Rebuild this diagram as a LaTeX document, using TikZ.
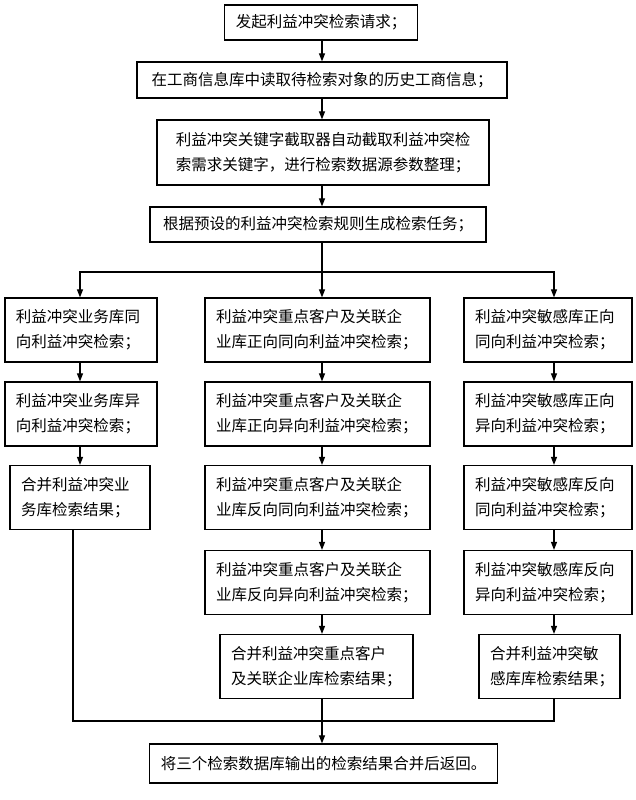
\documentclass[tikz,border=0pt]{standalone}
\usepackage{fontspec}
\newfontfamily\cjk{Noto Sans CJK SC}
\usetikzlibrary{arrows.meta}
\begin{document}
\begin{tikzpicture}[x=1pt,y=-1pt,
  box/.style={draw, line width=1.2pt, font=\cjk\fontsize{15.5}{25}\selectfont, inner ysep=0pt, inner xsep=11pt},
  single/.style={box, align=center},
  lbox/.style={box, align=left, minimum height=64pt},
  arr/.style={line width=1.1pt, -{Triangle[length=8pt,width=6pt]}},
  ln/.style={line width=1.1pt}
]
\fill[white] (0,0) rectangle (636,800);
\useasboundingbox (0,0) rectangle (636,800);

% top chain
\node[single, minimum width=185pt, minimum height=35pt] (B1) at (321,22.5) {发起利益冲突检索请求；};
\node[single, minimum width=370pt, minimum height=36pt] (B2) at (322,80) {在工商信息库中读取待检索对象的历史工商信息；};
\node[box, align=left, minimum width=332pt, minimum height=65pt] (B3) at (323,152.5) {利益冲突关键字截取器自动截取利益冲突检\\索需求关键字，进行检索数据源参数整理；};
\node[single, minimum width=336pt, minimum height=35pt] (B4) at (318,224.5) {根据预设的利益冲突检索规则生成检索任务；};

% left column
\node[lbox, text width=130pt] (L1) at (81,330) {利益冲突业务库同\\向利益冲突检索；};
\node[lbox, text width=130pt] (L2) at (81,414) {利益冲突业务库异\\向利益冲突检索；};
\node[lbox, text width=118pt] (L3) at (80,497.5) {合并利益冲突业\\务库检索结果；};

% middle column
\node[lbox, text width=203pt] (M1) at (317.5,330) {利益冲突重点客户及关联企\\业库正向同向利益冲突检索；};
\node[lbox, text width=203pt] (M2) at (317.5,414) {利益冲突重点客户及关联企\\业库正向异向利益冲突检索；};
\node[lbox, text width=203pt] (M3) at (317.5,497.5) {利益冲突重点客户及关联企\\业库反向同向利益冲突检索；};
\node[lbox, text width=203pt] (M4) at (317.5,582.5) {利益冲突重点客户及关联企\\业库反向异向利益冲突检索；};
\node[lbox, text width=171pt] (M5) at (316.5,666.5) {合并利益冲突重点客户\\及关联企业库检索结果；};

% right column
\node[lbox, text width=146pt] (R1) at (548,330) {利益冲突敏感库正向\\同向利益冲突检索；};
\node[lbox, text width=146pt] (R2) at (548,414) {利益冲突敏感库正向\\异向利益冲突检索；};
\node[lbox, text width=146pt] (R3) at (548,497.5) {利益冲突敏感库反向\\同向利益冲突检索；};
\node[lbox, text width=146pt] (R4) at (548,582.5) {利益冲突敏感库反向\\异向利益冲突检索；};
\node[lbox, text width=119pt] (R5) at (549.5,666.5) {合并利益冲突敏\\感库库检索结果；};

% final
\node[single, minimum width=347pt, minimum height=39pt] (F) at (323.5,763.5) {将三个检索数据库输出的检索结果合并后返回。};

% guide coordinates
\coordinate (cx) at (322,0);
\coordinate (lx) at (80,0);
\coordinate (rx) at (554,0);
\coordinate (lbx) at (73,0);
\coordinate (T) at (322,272);
\coordinate (J) at (322,721);

% connectors
\draw[arr] (B1.south -| cx) -- (B2.north -| cx);
\draw[arr] (B2.south -| cx) -- (B3.north -| cx);
\draw[arr] (B3.south -| cx) -- (B4.north -| cx);
\draw[ln] (B4.south -| cx) -- (T);
\draw[arr] (T) -- (M1.north -| cx);
\draw[arr] (T) -| (L1.north -| lx);
\draw[arr] (T) -| (R1.north -| rx);

\draw[arr] (L1.south -| lx) -- (L2.north -| lx);
\draw[arr] (L2.south -| lx) -- (L3.north -| lx);

\draw[arr] (M1.south -| cx) -- (M2.north -| cx);
\draw[arr] (M2.south -| cx) -- (M3.north -| cx);
\draw[arr] (M3.south -| cx) -- (M4.north -| cx);
\draw[arr] (M4.south -| cx) -- (M5.north -| cx);

\draw[arr] (R1.south -| rx) -- (R2.north -| rx);
\draw[arr] (R2.south -| rx) -- (R3.north -| rx);
\draw[arr] (R3.south -| rx) -- (R4.north -| rx);
\draw[arr] (R4.south -| rx) -- (R5.north -| rx);

\draw[ln] (L3.south -| lbx) |- (J);
\draw[ln] (R5.south -| rx) |- (J);
\draw[arr] (M5.south -| cx) -- (F.north -| cx);
\end{tikzpicture}
\end{document}
